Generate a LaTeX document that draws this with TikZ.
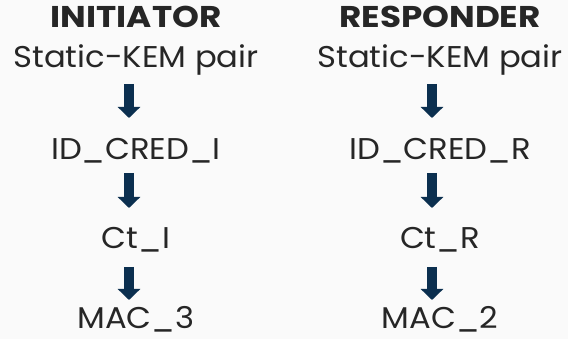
\documentclass[tikz,border=0pt]{standalone}
\usepackage{fontspec}
\setmainfont{Poppins}[FakeStretch=1.075]
\newfontfamily\headfont{Poppins}[FakeStretch=1.14]
\usetikzlibrary{arrows.meta}
\definecolor{bgc}{HTML}{FAFAFA}
\definecolor{txt}{HTML}{262626}
\definecolor{arr}{HTML}{0B2F4F}
\tikzset{
  lbl/.style={anchor=base, inner sep=0pt, text=txt, font=\fontsize{30}{34}\selectfont},
  head/.style={lbl, font=\headfont\fontsize{30}{34}\selectfont\bfseries},
  blockarrow/.style={draw=arr, line width=10pt, -{Triangle[width=22pt,length=11pt]}}
}
\begin{document}
\begin{tikzpicture}[x=1pt,y=-1pt]
\fill[bgc] (0,0) rectangle (568,339);
\useasboundingbox (0,0) rectangle (568,339);
% left column
\node[head] (hI) at (136,28) {INITIATOR};
\node[lbl] (sI) at (136,68) {Static-KEM pair};
\node[lbl] (idI) at (136,160) {ID\_CRED\_I};
\node[lbl] (ctI) at (136,249) {Ct\_I};
\node[lbl] (macI) at (136,328) {MAC\_3};
% right column
\node[head] (hR) at (440,28) {RESPONDER};
\node[lbl] (sR) at (440,68) {Static-KEM pair};
\node[lbl] (idR) at (440,160) {ID\_CRED\_R};
\node[lbl] (ctR) at (440,249) {Ct\_R};
\node[lbl] (macR) at (440,328) {MAC\_2};
% arrow end points
\coordinate (a1s) at (129,84);  \coordinate (a1e) at (129,118);
\coordinate (a2s) at (129,173); \coordinate (a2e) at (129,208);
\coordinate (a3s) at (129,267); \coordinate (a3e) at (129,300);
\coordinate (b1s) at (432,84);  \coordinate (b1e) at (432,118);
\coordinate (b2s) at (432,173); \coordinate (b2e) at (432,208);
\coordinate (b3s) at (432,267); \coordinate (b3e) at (432,300);
\draw[blockarrow] (a1s) -- (a1e);
\draw[blockarrow] (a2s) -- (a2e);
\draw[blockarrow] (a3s) -- (a3e);
\draw[blockarrow] (b1s) -- (b1e);
\draw[blockarrow] (b2s) -- (b2e);
\draw[blockarrow] (b3s) -- (b3e);
\end{tikzpicture}
\end{document}
